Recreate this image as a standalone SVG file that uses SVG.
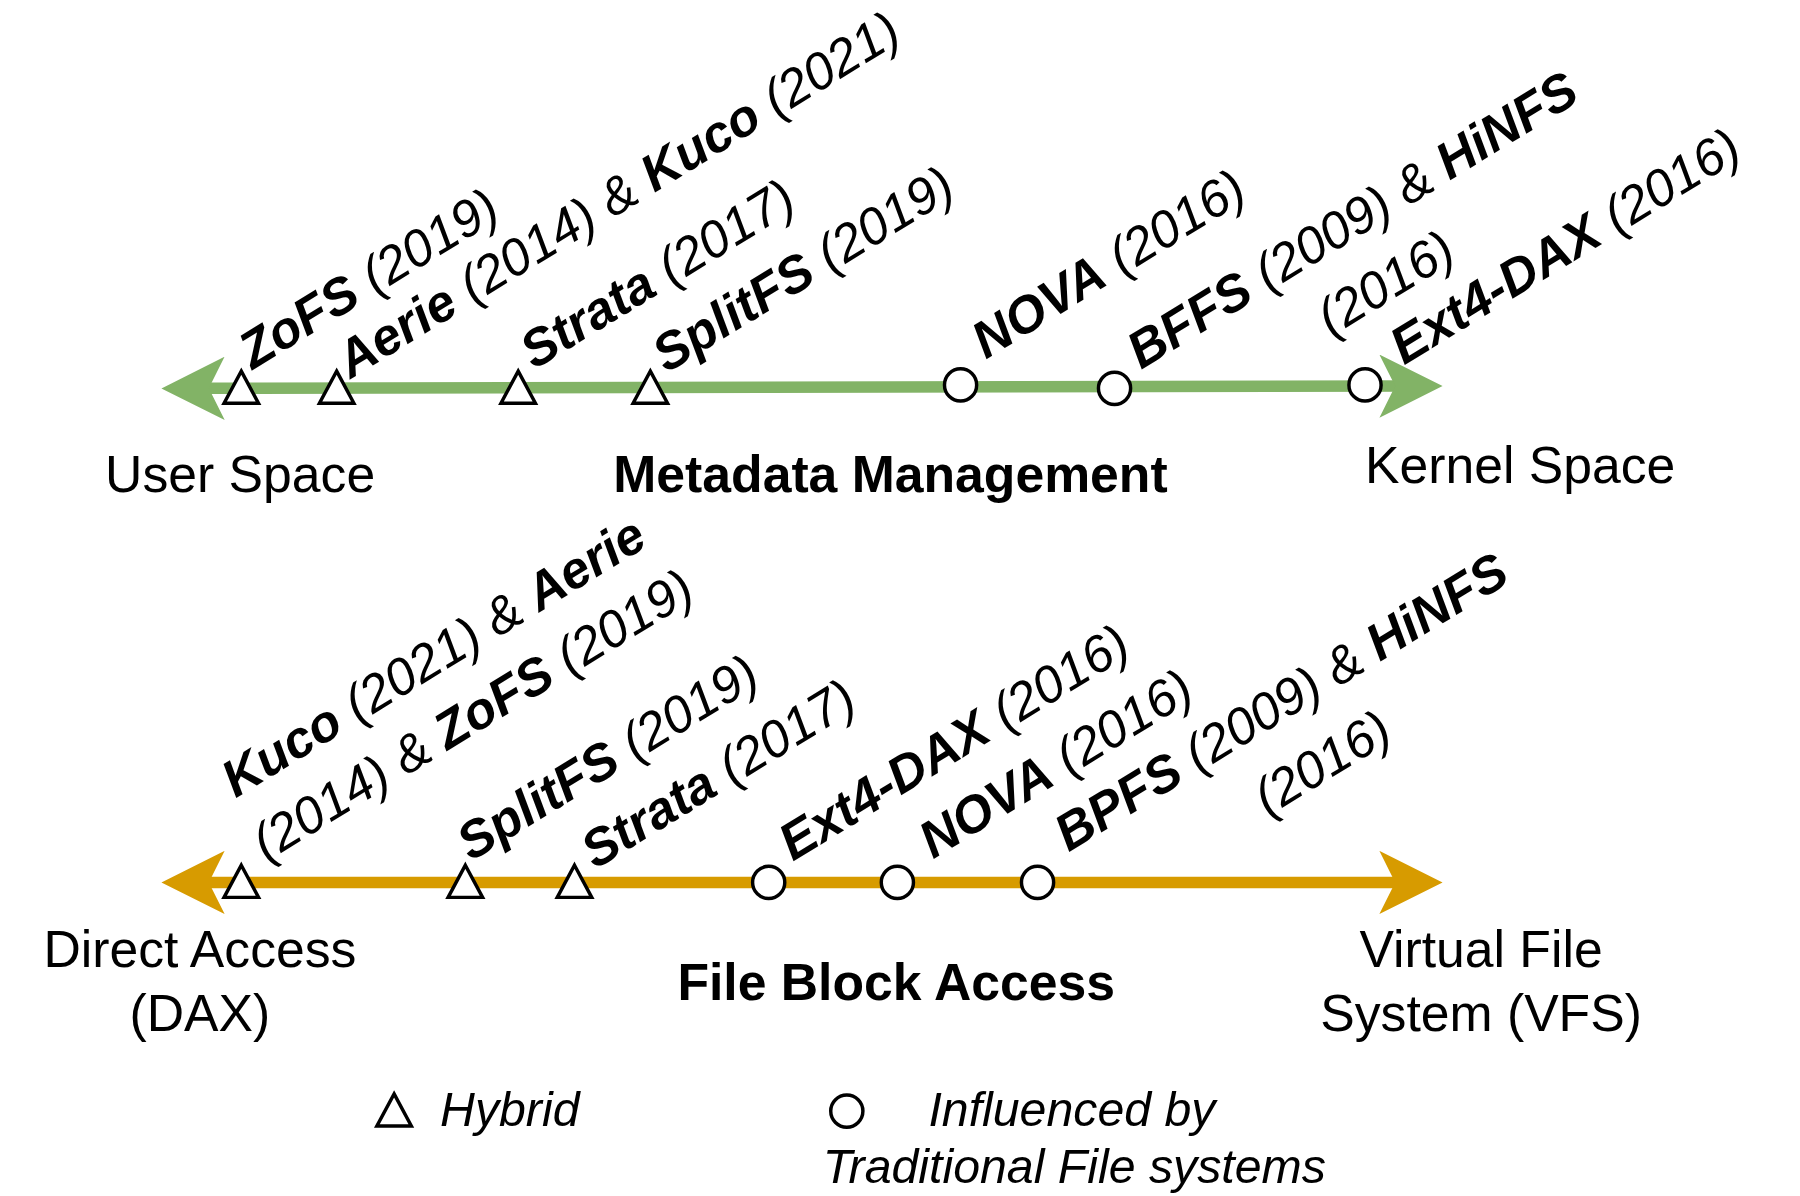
<svg xmlns="http://www.w3.org/2000/svg" width="1800" height="1196" viewBox="0 0 1800 1196">
<style>
text{font-family:"Liberation Sans",Arial,sans-serif;font-size:45px;fill:#000}
.b{font-weight:bold}
.i{font-style:italic;font-size:42px}
.lb{font-style:italic}
.lb tspan.n{font-weight:bold}
.m{fill:#fff;stroke:#000;stroke-width:3}
</style>
<defs>
<marker id="ag" viewBox="0 0 10 10" refX="5" refY="5" markerWidth="5.5" markerHeight="5.5" markerUnits="strokeWidth" orient="auto-start-reverse"><path d="M0,0 L10,5 L0,10 L2.5,5 Z" fill="#82b366"/></marker>
<marker id="ao" viewBox="0 0 10 10" refX="5" refY="5" markerWidth="5.5" markerHeight="5.5" markerUnits="strokeWidth" orient="auto-start-reverse"><path d="M0,0 L10,5 L0,10 L2.5,5 Z" fill="#d79b00"/></marker>
<path id="tri" d="M0,-15 L15,13 L-15,13 Z"/>
</defs>
<rect width="1800" height="1196" fill="#fff"/>
<g transform="scale(1.149)">
<g id="connectors">
<line x1="168" y1="338" x2="1228" y2="336" stroke="#82b366" stroke-width="10" marker-start="url(#ag)" marker-end="url(#ag)"/>
<line x1="168" y1="768" x2="1228" y2="768" stroke="#d79b00" stroke-width="10" marker-start="url(#ao)" marker-end="url(#ao)"/>
</g>
<g id="markers">
<use href="#tri" class="m" x="210" y="338"/>
<use href="#tri" class="m" x="293" y="338"/>
<use href="#tri" class="m" x="451" y="338"/>
<use href="#tri" class="m" x="566" y="338"/>
<circle class="m" cx="836" cy="335" r="14"/>
<circle class="m" cx="970" cy="338" r="14"/>
<circle class="m" cx="1188" cy="335" r="14"/>
<use href="#tri" class="m" x="210" y="768"/>
<use href="#tri" class="m" x="405" y="768"/>
<use href="#tri" class="m" x="500" y="768"/>
<circle class="m" cx="669" cy="768" r="14"/>
<circle class="m" cx="781" cy="768" r="14"/>
<circle class="m" cx="903" cy="768" r="14"/>
</g>
<g id="top-labels">
<text class="lb" transform="translate(220,322) rotate(-31.5)"><tspan class="n">ZoFS</tspan> (2019)</text>
<text class="lb" transform="translate(305,330) rotate(-31.5)"><tspan class="n">Aerie</tspan> (2014) &amp; <tspan class="n">Kuco</tspan> (2021)</text>
<text class="lb" transform="translate(465,322) rotate(-31.5)"><tspan class="n">Strata</tspan> (2017)</text>
<text class="lb" transform="translate(580,325) rotate(-31.5)"><tspan class="n">SplitFS</tspan> (2019)</text>
<text class="lb" transform="translate(858,313) rotate(-31.5)"><tspan class="n">NOVA</tspan> (2016)</text>
<text class="lb" transform="translate(993,322) rotate(-31.5)"><tspan class="n">BFFS</tspan> (2009) &amp; <tspan class="n">HiNFS</tspan><tspan x="156" y="62">(2016)</tspan></text>
<text class="lb" transform="translate(1222,318) rotate(-31.5)"><tspan class="n">Ext4-DAX</tspan> (2016)</text>
</g>
<g id="bottom-labels">
<text class="lb" transform="translate(205,695) rotate(-31.5)"><tspan class="n">Kuco</tspan> (2021) &amp; <tspan class="n">Aerie</tspan><tspan x="-6" y="61">(2014) &amp; </tspan><tspan class="n">ZoFS</tspan> (2019)</text>
<text class="lb" transform="translate(410,750) rotate(-31.5)"><tspan class="n">SplitFS</tspan> (2019)</text>
<text class="lb" transform="translate(518,757) rotate(-31.5)"><tspan class="n">Strata</tspan> (2017)</text>
<text class="lb" transform="translate(690,750) rotate(-31.5)"><tspan class="n">Ext4-DAX</tspan> (2016)</text>
<text class="lb" transform="translate(812,748) rotate(-31.5)"><tspan class="n">NOVA</tspan> (2016)</text>
<text class="lb" transform="translate(930,742) rotate(-31.5)"><tspan class="n">BPFS</tspan> (2009) &amp; <tspan class="n">HiNFS</tspan><tspan x="164" y="64">(2016)</tspan></text>
</g>
<g id="titles" text-anchor="middle">
<text x="209" y="428">User Space</text>
<text class="b" x="775" y="428">Metadata Management</text>
<text x="1323" y="420">Kernel Space</text>
<text x="174" y="842">Direct Access</text>
<text x="174" y="897">(DAX)</text>
<text class="b" x="780" y="870">File Block Access</text>
<text x="1289" y="842">Virtual File</text>
<text x="1289" y="897">System (VFS)</text>
</g>
<g id="legend">
<use href="#tri" class="m" x="343" y="967"/>
<text class="i" x="383" y="980">Hybrid</text>
<circle class="m" cx="737" cy="967" r="14"/>
<text class="i" x="808" y="980">Influenced by</text>
<text class="i" x="716" y="1030">Traditional File systems</text>
</g>
</g>
</svg>
